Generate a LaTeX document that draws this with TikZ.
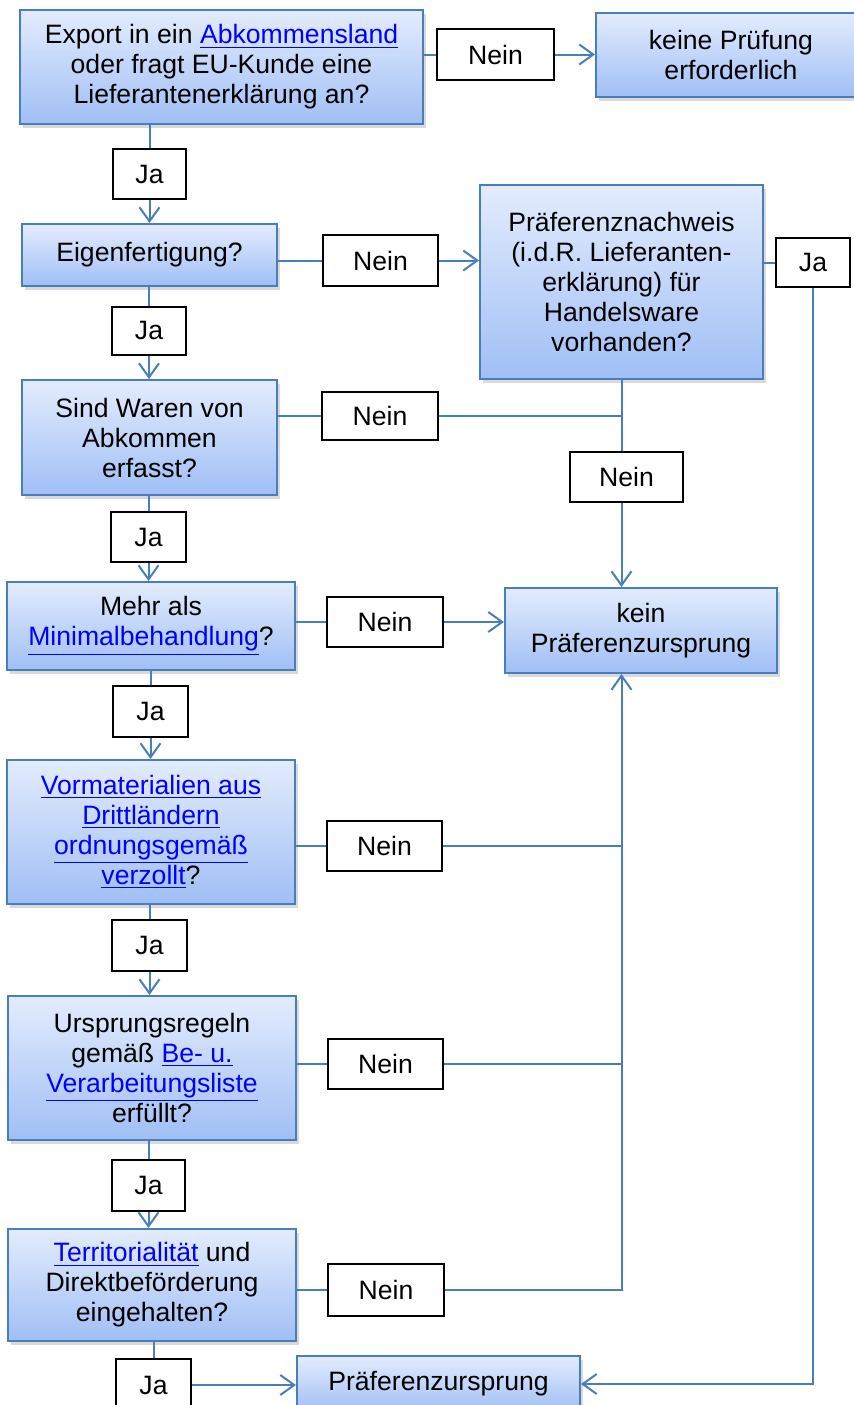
\documentclass[tikz,border=0pt]{standalone}
\usepackage{fontspec}
\setmainfont{Liberation Sans}
\usetikzlibrary{arrows.meta,shadows}
\definecolor{frameblue}{HTML}{4A7EBB}
\definecolor{topblue}{HTML}{E3ECFD}
\definecolor{botblue}{HTML}{A0BFF5}
\definecolor{linkblue}{HTML}{0000FF}
\def\lnk#1{\textcolor{linkblue}{\underline{#1}}}
\tikzset{
	boxsize/.style 2 args={minimum width=#1*0.5pt, minimum height=#2*0.5pt},
	stepbox/.style={draw=frameblue, line width=1pt, top color=topblue, bottom color=botblue,
		drop shadow={opacity=0.3, shadow xshift=1.5pt, shadow yshift=-2pt}, align=center, inner sep=0pt},
	answer/.style={draw=black, line width=1pt, fill=white, inner sep=0pt},
	flow/.style={draw=frameblue, line width=1pt},
	arr/.style={flow, -{Straight Barb[length=7pt, width=10pt]}}
}

\begin{document}
\begin{tikzpicture}[x=0.5pt, y=-0.5pt, font=\fontsize{13.3}{15}\selectfont]
			%%%%% START %%%%%
			
			\useasboundingbox (0, 0) rectangle (854, 1405);
			\clip (0, 0) rectangle (854, 1405);
			
			\node[stepbox, boxsize={403}{114}] (export) at (221.5, 67) {Export in ein \lnk{Abkommensland}\\oder fragt EU-Kunde eine\\Lieferantenerklärung an?};
			\node[stepbox, boxsize={270}{84}] (keinePruefung) at (731, 55) {keine Prüfung\\erforderlich};
			\node[stepbox, boxsize={255}{62}] (eigen) at (149.5, 255) {Eigenfertigung?};
			\node[stepbox, boxsize={283}{194}] (nachweis) at (621.5, 282) {Präferenznachweis\\(i.d.R. Lieferanten-\\erklärung) für\\Handelsware\\vorhanden?};
			\node[stepbox, boxsize={255}{115}] (erfasst) at (149.5, 437.5) {Sind Waren von\\Abkommen\\erfasst?};
			\node[stepbox, boxsize={272}{85}] (kein) at (641, 630.5) {kein\\Präferenzursprung};
			\node[stepbox, boxsize={288}{88}] (minimal) at (151, 626) {Mehr als\\\lnk{Minimalbehandlung}?};
			\node[stepbox, boxsize={288}{144}] (vormat) at (151, 832) {\lnk{Vormaterialien aus}\\\lnk{Drittländern}\\\lnk{ordnungsgemäß}\\\lnk{verzollt}?};
			\node[stepbox, boxsize={288}{144}] (regeln) at (152, 1068) {Ursprungsregeln\\gemäß \lnk{Be- u.}\\\lnk{Verarbeitungsliste}\\erfüllt?};
			\node[stepbox, boxsize={288}{112}] (territ) at (152, 1285) {\lnk{Territorialität} und\\Direktbeförderung\\eingehalten?};
			\node[stepbox, boxsize={283}{56}] (praef) at (438.5, 1384) {Präferenzursprung};
			
			\node[answer, boxsize={117}{51}] (neinExport) at (495.5, 54.5) {Nein};
			\node[answer, boxsize={73}{50}] (jaExport) at (149.5, 174) {Ja};
			\node[answer, boxsize={115}{51}] (neinEigen) at (380.5, 260.5) {Nein};
			\node[answer, boxsize={74}{49}] (jaNachweis) at (813, 262.5) {Ja};
			\node[answer, boxsize={74}{48}] (jaEigen) at (149, 330.5) {Ja};
			\node[answer, boxsize={116}{48}] (neinErfasst) at (380, 416) {Nein};
			\node[answer, boxsize={113}{50}] (neinNachweis) at (626.5, 477) {Nein};
			\node[answer, boxsize={75}{50}] (jaErfasst) at (148.5, 537) {Ja};
			\node[answer, boxsize={116}{50}] (neinMinimal) at (385, 622) {Nein};
			\node[answer, boxsize={75}{51}] (jaMinimal) at (150.5, 711.5) {Ja};
			\node[answer, boxsize={115}{50}] (neinVormat) at (384.5, 846) {Nein};
			\node[answer, boxsize={75}{51}] (jaVormat) at (149.5, 945.5) {Ja};
			\node[answer, boxsize={115}{50}] (neinRegeln) at (385.5, 1064) {Nein};
			\node[answer, boxsize={73}{51}] (jaRegeln) at (148.5, 1185.5) {Ja};
			\node[answer, boxsize={116}{52}] (neinTerrit) at (386, 1290) {Nein};
			\node[answer, boxsize={75}{52}] (jaTerrit) at (153.5, 1385) {Ja};
			
			% Nein-Zweige
			\draw[flow] (export.east |- neinExport) -- (neinExport);
			\draw[arr] (neinExport) -- (keinePruefung.west |- neinExport);
			\draw[flow] (eigen.east |- neinEigen) -- (neinEigen);
			\draw[arr] (neinEigen) -- (nachweis.west |- neinEigen);
			\draw[flow] (erfasst.east |- neinErfasst) -- (neinErfasst);
			\draw[flow] (neinErfasst) -- (neinErfasst -| nachweis.south);
			\draw[flow] (nachweis.south) -- (nachweis.south |- neinNachweis.north);
			\draw[arr] (nachweis.south |- neinNachweis.south) -- (nachweis.south |- kein.north);
			\draw[flow] (minimal.east |- neinMinimal) -- (neinMinimal);
			\draw[arr] (neinMinimal) -- (kein.west |- neinMinimal);
			\draw[flow] (vormat.east |- neinVormat) -- (neinVormat);
			\draw[flow] (neinVormat) -- (neinVormat -| nachweis.south);
			\draw[flow] (regeln.east |- neinRegeln) -- (neinRegeln);
			\draw[flow] (neinRegeln) -- (neinRegeln -| nachweis.south);
			\draw[flow] (territ.east |- neinTerrit) -- (neinTerrit);
			\draw[arr] (neinTerrit) -| (kein.south -| nachweis.south);
			
			% Ja-Zweige
			\draw[flow] (export.south -| jaExport) -- (jaExport);
			\draw[arr] (jaExport) -- (eigen.north -| jaExport);
			\draw[flow] (eigen.south -| jaEigen) -- (jaEigen);
			\draw[arr] (jaEigen) -- (erfasst.north -| jaEigen);
			\draw[flow] (erfasst.south -| jaErfasst) -- (jaErfasst);
			\draw[arr] (jaErfasst) -- (minimal.north -| jaErfasst);
			\draw[flow] (minimal.south -| jaMinimal) -- (jaMinimal);
			\draw[arr] (jaMinimal) -- (vormat.north -| jaMinimal);
			\draw[flow] (vormat.south -| jaVormat) -- (jaVormat);
			\draw[arr] (jaVormat) -- (regeln.north -| jaVormat);
			\draw[flow] (regeln.south -| jaRegeln) -- (jaRegeln);
			\draw[arr] (jaRegeln) -- (territ.north -| jaRegeln);
			\draw[flow] (territ.south -| jaTerrit) -- (jaTerrit);
			\draw[arr] (jaTerrit) -- (praef.west |- jaTerrit);
			\draw[flow] (nachweis.east |- jaNachweis) -- (jaNachweis);
			\draw[arr] (jaNachweis.south) |- (praef.east);
			
			%%%%% END %%%%%
\end{tikzpicture}
\end{document}
